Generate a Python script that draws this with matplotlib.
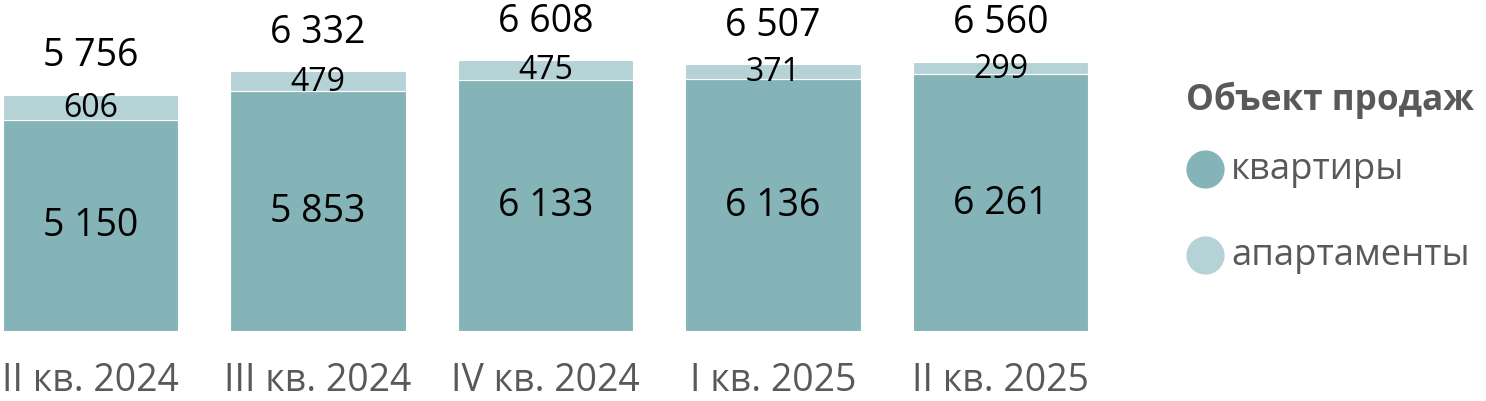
import matplotlib
matplotlib.use("Agg")
import matplotlib.pyplot as plt

plt.rcParams['font.family'] = ['Open Sans', 'DejaVu Sans']

categories = ["II кв. 2024", "III кв. 2024", "IV кв. 2024", "I кв. 2025", "II кв. 2025"]
flats = [5150, 5853, 6133, 6136, 6261]
apartments = [606, 479, 475, 371, 299]
series_names = ["квартиры", "апартаменты"]
legend_title = "Объект продаж"

c_flat = "#84B3B8"
c_apt = "#B5D3D7"
gray = "#595959"

def fmt(v):
    return f"{v:,}".replace(",", " ")

W, H = 1486, 402
fig = plt.figure(figsize=(W / 100, H / 100), dpi=100)
ax = fig.add_axes([0, 70 / H, 1150 / W, 332 / H])

x = list(range(len(categories)))
ax.bar(x, flats, width=0.77, color=c_flat, edgecolor="white", linewidth=0.8)
ax.bar(x, apartments, bottom=flats, width=0.77, color=c_apt, edgecolor="white", linewidth=0.8)

ax.set_xlim(-0.398, 4.657)
ax.set_ylim(0, 8098)
ax.axis("off")

for i in x:
    ax.text(i, flats[i] / 2, fmt(flats[i]), ha="center", va="center", fontsize=27, color="black")
    ax.text(i, flats[i] + apartments[i] / 2, fmt(apartments[i]), ha="center", va="center", fontsize=23, color="black")
    tot = flats[i] + apartments[i]
    ax.annotate(fmt(tot), (i, tot), xytext=(0, 28.5), textcoords="offset points",
                ha="center", va="center", fontsize=27, color="black")
    ax.annotate(categories[i], (i, 0), xytext=(0, -35), textcoords="offset points",
                ha="center", va="center", fontsize=27, color=gray, annotation_clip=False)

# legend drawn in a pixel-coordinate overlay
lg = fig.add_axes([0, 0, 1, 1], zorder=-1)
lg.set_xlim(0, W)
lg.set_ylim(H, 0)
lg.axis("off")
lg.text(1186, 100, legend_title, ha="left", va="center", fontsize=25.3, fontweight="bold", color=gray)
for name, col, yy in zip(series_names, [c_flat, c_apt], [170, 256]):
    lg.plot([1205], [yy], marker="o", markersize=26.5, color=col, linestyle="none")
    lg.text(1231, yy, name, ha="left", va="center", fontsize=26.3, color=gray)

fig.savefig("out.png", dpi=100)
